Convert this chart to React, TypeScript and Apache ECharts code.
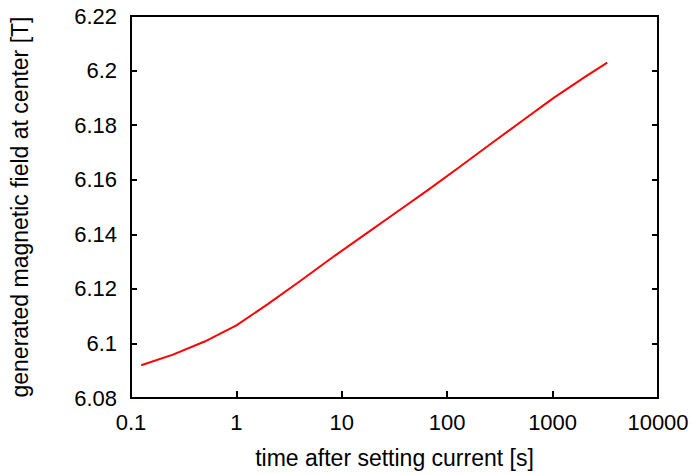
import React, { useEffect, useRef } from "react";
import * as echarts from "echarts";

const timeSeconds = [0.125, 0.25, 0.5, 1, 2, 4, 8, 16, 32, 64, 128, 256, 512, 1024, 2048, 3300];
const fieldTesla = [6.092, 6.0959, 6.1007, 6.1066, 6.1145, 6.1228, 6.1313, 6.1395, 6.1477, 6.1559, 6.1644, 6.173, 6.1815, 6.19, 6.1978, 6.2029];
const xTitle = "time after setting current [s]";
const yTitle = "generated magnetic field at center [T]";

const FONT = "'Liberation Sans', Arial, Helvetica, sans-serif";

export default function App() {
  const ref = useRef<HTMLDivElement>(null);
  useEffect(() => {
    if (!ref.current) return;
    const chart = echarts.init(ref.current, undefined, { renderer: "svg" });
    const data = timeSeconds.map((t, i) => [t, fieldTesla[i]]);
    chart.setOption({
      animation: false,
      backgroundColor: "#ffffff",
      grid: {
        left: 131,
        top: 16,
        width: 527,
        height: 387,
        show: true,
        borderColor: "#000",
        borderWidth: 2,
        backgroundColor: "transparent",
      },
      xAxis: {
        type: "log",
        logBase: 10,
        min: 0.1,
        max: 10000,
        name: xTitle,
        nameLocation: "middle",
        nameGap: 48,
        nameTextStyle: { fontFamily: FONT, fontSize: 23, color: "#000" },
        axisLine: { show: false },
        axisTick: { show: true, inside: true, length: 7, lineStyle: { color: "#000", width: 2 } },
        minorTick: { show: false },
        splitLine: { show: false },
        axisLabel: {
          fontFamily: FONT,
          fontSize: 22,
          color: "#000",
          margin: 13,
          formatter: (v: number) => String(Number(v.toPrecision(6))),
        },
      },
      yAxis: [
        {
          type: "value",
          min: 6.08,
          max: 6.22,
          interval: 0.02,
          name: yTitle,
          nameLocation: "middle",
          nameGap: 100,
          nameRotate: 90,
          nameTextStyle: { fontFamily: FONT, fontSize: 23, color: "#000" },
          axisLine: { show: false },
          axisTick: { show: true, inside: true, length: 6, lineStyle: { color: "#000", width: 2 } },
          splitLine: { show: false },
          axisLabel: {
            fontFamily: FONT,
            fontSize: 22,
            color: "#000",
            margin: 14,
            formatter: (v: number) => String(parseFloat(v.toFixed(2))),
          },
        },
        {
          type: "value",
          position: "right",
          min: 6.08,
          max: 6.22,
          interval: 0.02,
          axisLine: { show: false },
          axisTick: { show: true, inside: true, length: 6, lineStyle: { color: "#000", width: 2 } },
          splitLine: { show: false },
          axisLabel: { show: false },
        },
      ],
      series: [
        {
          type: "line",
          data,
          yAxisIndex: 0,
          showSymbol: false,
          smooth: false,
          lineStyle: { color: "#ff0000", width: 2 },
        },
      ],
    });
    return () => chart.dispose();
  }, []);
  return (
    <div
      ref={ref}
      style={{ position: "fixed", left: 0, top: 0, width: 696, height: 474, background: "#fff" }}
    />
  );
}
